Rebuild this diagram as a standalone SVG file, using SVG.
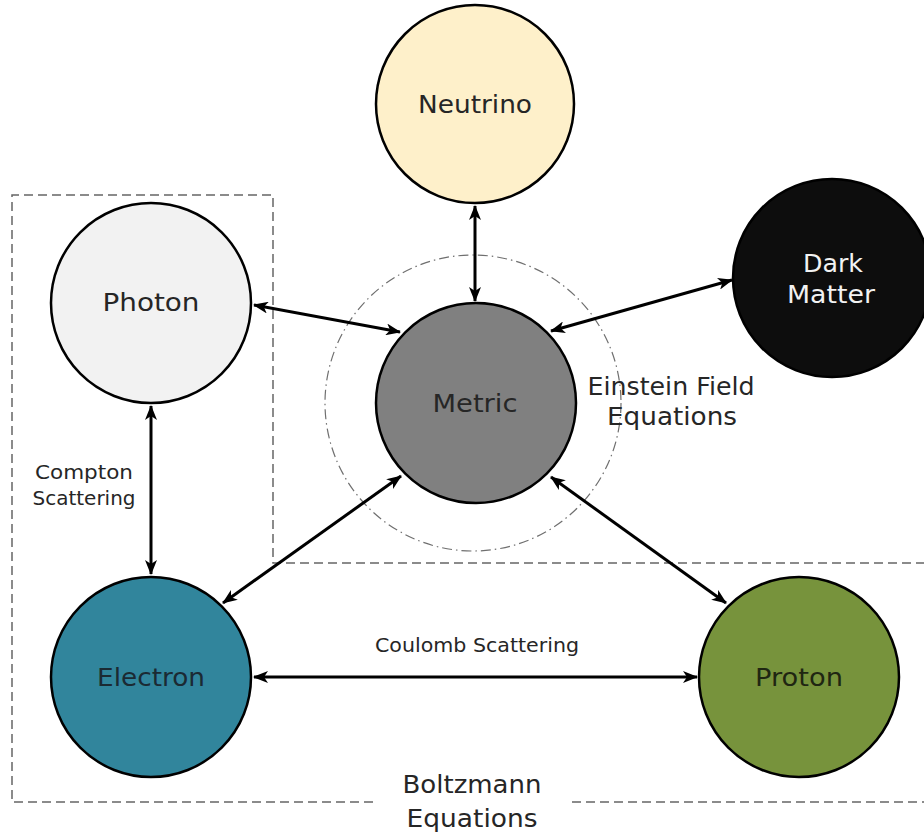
<svg xmlns="http://www.w3.org/2000/svg" width="924" height="836" viewBox="0 0 924 836">
<style>
.node{stroke:#000;stroke-width:2.5}
.lbl{font-family:"DejaVu Sans","Liberation Sans",sans-serif;font-size:24px;fill:#262626;text-anchor:middle}
.sm{font-family:"DejaVu Sans","Liberation Sans",sans-serif;font-size:19px;fill:#262626;text-anchor:middle}
.conn{stroke:#000;stroke-width:3;fill:none;marker-start:url(#ah);marker-end:url(#ah)}
.region{fill:none;stroke:#666;stroke-width:1.5;stroke-dasharray:9 5}
.efe{fill:none;stroke:#6f6f6f;stroke-width:1.2;stroke-dasharray:10 4 1.5 4}
</style>
<defs>
<marker id="ah" viewBox="0 0 15 12" refX="14" refY="6" markerWidth="15" markerHeight="12" markerUnits="userSpaceOnUse" orient="auto-start-reverse">
<path d="M0,0 L15,6 L0,12 L4,6 z" fill="#000"/>
</marker>
</defs>
<rect width="924" height="836" fill="#fff"/>
<g id="boltzmann-region">
<path class="region" d="M373,802 H12 V195 H273 V563 H930 V802 H572"/>
<text class="lbl" x="472" y="793" textLength="139" lengthAdjust="spacingAndGlyphs">Boltzmann</text>
<text class="lbl" x="472" y="827" textLength="131" lengthAdjust="spacingAndGlyphs">Equations</text>
</g>
<g id="einstein-region">
<circle class="efe" cx="473" cy="403" r="148"/>
<text class="lbl" x="671" y="395" textLength="167" lengthAdjust="spacingAndGlyphs">Einstein Field</text>
<text class="lbl" x="672" y="425" textLength="130" lengthAdjust="spacingAndGlyphs">Equations</text>
</g>
<g id="connectors">
<line class="conn" x1="475" y1="206" x2="475" y2="301"/>
<line class="conn" x1="254" y1="305" x2="400" y2="332"/>
<line class="conn" x1="732" y1="280" x2="551" y2="331"/>
<line class="conn" x1="401" y1="476" x2="223" y2="603"/>
<line class="conn" x1="551" y1="477" x2="726" y2="603"/>
<line class="conn" x1="151" y1="406" x2="151" y2="574"/>
<line class="conn" x1="254" y1="677" x2="697" y2="677"/>
<text class="sm" x="84" y="479" textLength="98" lengthAdjust="spacingAndGlyphs">Compton</text>
<text class="sm" x="84" y="505" textLength="103" lengthAdjust="spacingAndGlyphs">Scattering</text>
<text class="sm" x="477" y="652" textLength="204" lengthAdjust="spacingAndGlyphs">Coulomb Scattering</text>
</g>
<g id="neutrino">
<circle class="node" cx="475" cy="104" r="99" fill="#FEF0CA"/>
<text class="lbl" x="475" y="113" textLength="114" lengthAdjust="spacingAndGlyphs">Neutrino</text>
</g>
<g id="photon">
<circle class="node" cx="151" cy="303" r="100" fill="#F2F2F2"/>
<text class="lbl" x="151" y="311" textLength="97" lengthAdjust="spacingAndGlyphs">Photon</text>
</g>
<g id="metric">
<circle class="node" cx="476" cy="403" r="100" fill="#808080"/>
<text class="lbl" x="475" y="412" textLength="85" lengthAdjust="spacingAndGlyphs">Metric</text>
</g>
<g id="dark-matter">
<circle class="node" cx="832" cy="278" r="99" fill="#0D0D0D"/>
<text class="lbl" x="833" y="272" style="fill:#F2F2F2" textLength="60" lengthAdjust="spacingAndGlyphs">Dark</text>
<text class="lbl" x="831" y="303" style="fill:#F2F2F2" textLength="88" lengthAdjust="spacingAndGlyphs">Matter</text>
</g>
<g id="electron">
<circle class="node" cx="151" cy="677" r="100" fill="#31859C"/>
<text class="lbl" x="151" y="686" style="fill:#1B2A33" textLength="108" lengthAdjust="spacingAndGlyphs">Electron</text>
</g>
<g id="proton">
<circle class="node" cx="799" cy="677" r="100" fill="#77933C"/>
<text class="lbl" x="799" y="686" style="fill:#1F2612" textLength="88" lengthAdjust="spacingAndGlyphs">Proton</text>
</g>
</svg>
